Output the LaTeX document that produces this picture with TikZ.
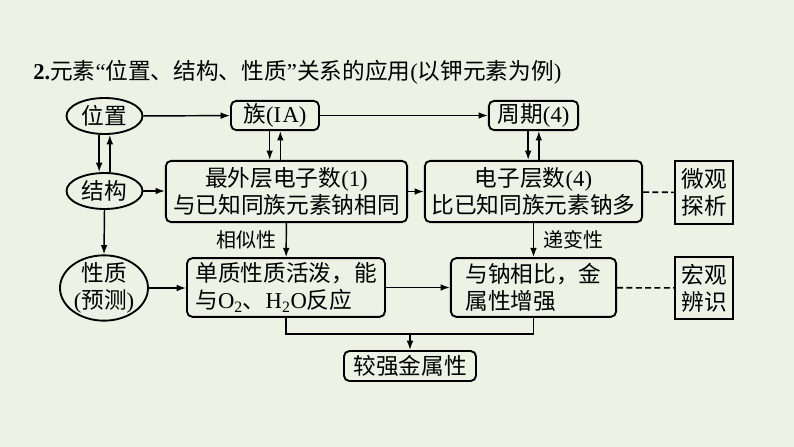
\documentclass[tikz,border=0pt]{standalone}
\usepackage{fontspec}
\setmainfont{Liberation Serif}
\newfontfamily\cjk{Noto Sans CJK SC}
\newcommand{\zh}[1]{{\cjk #1}}
\usetikzlibrary{positioning,arrows.meta,shapes.geometric}
\definecolor{bgpaper}{RGB}{238,242,228}
\tikzset{
  box/.style={draw, line width=1.4pt, rounded corners=4pt, align=center, font=\fontsize{17}{20.25}\selectfont, inner sep=2pt},
  sqbox/.style={box, rounded corners=0pt},
  oval/.style={ellipse, draw, line width=1.4pt, align=center, font=\fontsize{17}{20.25}\selectfont, inner sep=0pt},
  arr/.style={-{Latex[length=7pt,width=5pt]}, line width=1.1pt},
  link/.style={line width=1.1pt},
  dashlink/.style={line width=1.2pt, dash pattern=on 4.5pt off 2.5pt},
  lab/.style={font=\fontsize{15}{17}\selectfont, inner sep=0pt}
}
\begin{document}
\begin{tikzpicture}[x=0.75pt, y=-0.75pt]
\fill[bgpaper] (0,0) rectangle (794,447);
\useasboundingbox (0,0) rectangle (794,447);
\node[anchor=west, inner sep=0pt, font=\fontsize{17}{20}\selectfont] (title) at (33,72) {\textbf{2.}\zh{元素}“\zh{位置、结构、性质}”\zh{关系的应用}(\zh{以钾元素为例})};
% left column
\node[oval, minimum width=57pt, minimum height=27pt] (wz) at (104.5,116) {\zh{位置}};
\node[oval, minimum width=57pt, minimum height=27pt] (jg) at (104.5,191) {\zh{结构}};
\node[oval, minimum width=66pt, minimum height=49pt, inner ysep=-3pt] (xz) at (104,288) {\zh{性质}\\(\zh{预测})};
% top row
\node[box, minimum width=66pt, minimum height=22pt] (zu) at (275,115.5) {\zh{族}(I\kern1pt A)};
\node[box, minimum width=67pt, minimum height=22pt] (zq) at (533.5,115.5) {\zh{周期}(4)};
% middle row
\node[box, minimum width=181pt, minimum height=46pt] (zw) at (286.5,191.5) {\zh{最外层电子数}(1)\\\zh{与已知同族元素钠相同}};
\node[box, minimum width=163pt, minimum height=46pt] (dc) at (533.5,191.5) {\zh{电子层数}(4)\\\zh{比已知同族元素钠多}};
\node[sqbox, minimum width=43.5pt, minimum height=47pt] (wg) at (704,192.5) {\zh{微观}\\\zh{探析}};
% bottom row
\node[box, minimum width=148.5pt, minimum height=44pt, align=left] (dz) at (286,287.5) {\zh{单质性质活泼，能}\\\zh{与}O\textsubscript{2}\zh{、}H\textsubscript{2}O\zh{反应}};
\node[box, minimum width=124pt, minimum height=44pt, align=left] (yn) at (533.5,287.5) {\zh{与钠相比，金}\\\zh{属性增强}};
\node[sqbox, minimum width=43.5pt, minimum height=46.5pt] (hg) at (704,288) {\zh{宏观}\\\zh{辨识}};
\node[box, minimum width=99pt, minimum height=22.5pt] (jq) at (410,366) {\zh{较强金属性}};
\coordinate (mg) at (410,334);
% connectors
\draw[arr] (wz) -- (zu);
\draw[arr] (zu) -- (zq);
\draw[arr] ([xshift=-4pt]wz.south) -- ([xshift=-4pt]jg.north);
\draw[arr] ([xshift=4pt]jg.north) -- ([xshift=4pt]wz.south);
\draw[arr] ([xshift=-4pt]zu.south) -- ([xshift=-4pt]zu.south |- zw.north);
\draw[arr] ([xshift=4pt]zu.south |- zw.north) -- ([xshift=4pt]zu.south);
\draw[arr] ([xshift=-4pt]zq.south) -- ([xshift=-4pt]zq.south |- dc.north);
\draw[arr] ([xshift=4pt]zq.south |- dc.north) -- ([xshift=4pt]zq.south);
\draw[arr] (jg.east) -- (jg.east -| zw.west);
\draw[arr] (zw) -- (dc);
\draw[arr] (jg.south) -- (xz.north);
\draw[arr] (xz.east) -- (xz.east -| dz.west);
\draw[arr] (dz) -- (yn);
\draw[arr] (zw) -- node[lab, left=7pt]{\zh{相似性}} (dz);
\draw[arr] (dc) -- node[lab, right=7pt]{\zh{递变性}} (yn);
\draw[dashlink] (dc) -- (wg);
\draw[dashlink] (yn) -- (hg);
\draw[link] (dz.south) |- (mg) -| (yn.south);
\draw[arr] (mg) -- (jq);
\end{tikzpicture}
\end{document}
